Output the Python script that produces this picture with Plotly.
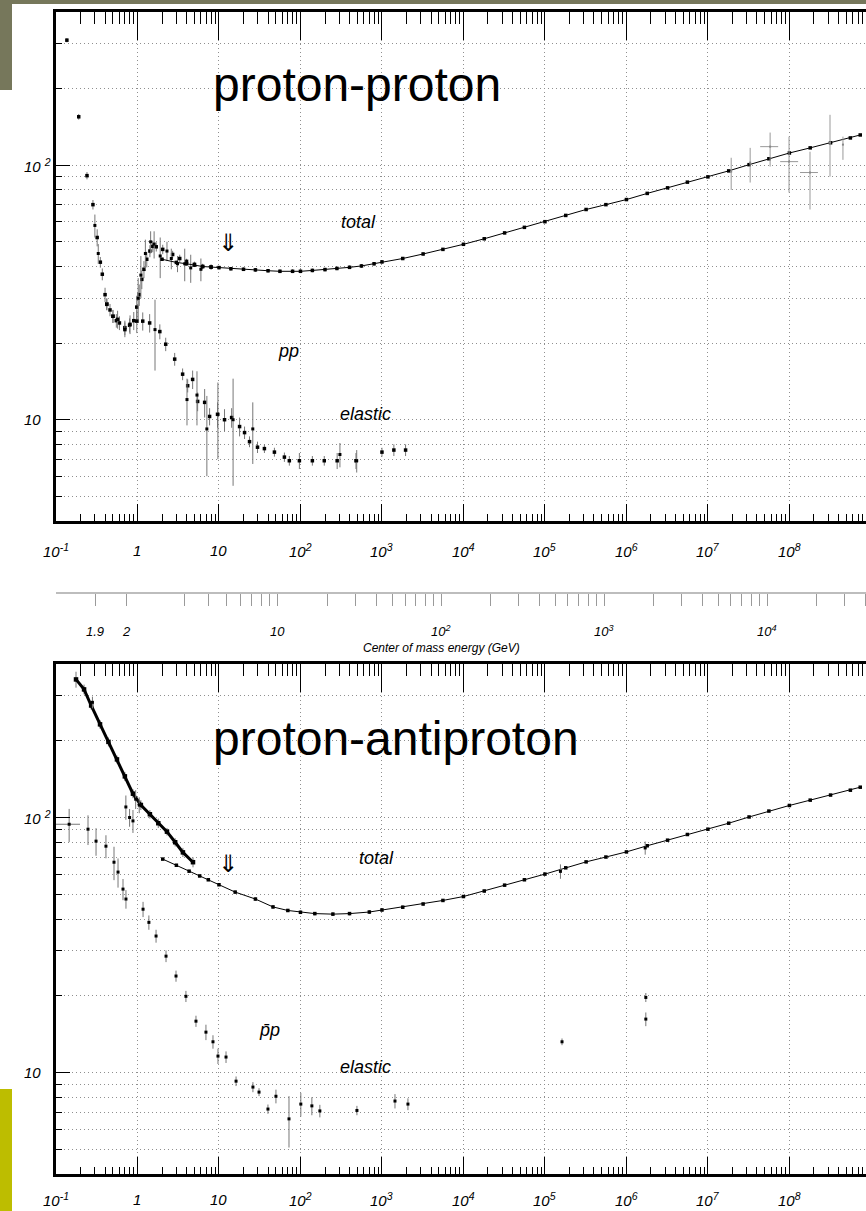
import math
import plotly.graph_objects as go

W, H = 866, 1211

# ------------------------------------------------------------------
# DATA  (beam momentum p_lab in GeV/c, cross sections in mb)
# ------------------------------------------------------------------
# proton-proton total, low-energy measurements
pp_tot_lo_p = [0.136, 0.19, 0.24, 0.284, 0.32, 0.35, 0.37, 0.40, 0.42, 0.46, 0.50, 0.55,
               0.60, 0.70, 0.80, 0.90, 0.98, 1.05, 1.13, 1.20, 1.30, 1.42, 1.54, 1.70,
               2.04, 2.70, 3.30, 4.0, 5.0, 6.3, 8.0]
pp_tot_lo_sig = [310, 155, 91, 70, 52, 41.6, 37.3, 31, 28.5, 27, 25.5, 24.5,
                 24, 23, 23.5, 24.5, 27.7, 31, 35.6, 39, 42.7, 46, 48, 47.8,
                 46.7, 44.6, 43, 41.9, 40.8, 40, 39.8]
pp_tot_lo_err = [6, 4, 3, 3, 4, 2, 2, 2, 1.5, 1.5, 1.5, 1.5,
                 1.5, 1.5, 1.5, 2, 3, 3, 3, 3, 3, 2.5, 2.5, 2,
                 2, 1.5, 1.5, 1, 1, 1, 1]
# proton-proton total, scattered measurements with larger errors
pp_tot_sc_p = [0.30, 0.33, 1.02, 1.10, 1.25, 1.45, 1.60, 1.90, 2.30, 2.60, 3.10, 3.80, 4.50, 6.00]
pp_tot_sc_sig = [58, 45, 30, 37, 45, 50, 49, 44, 46, 43, 41, 41, 39.5, 39]
pp_tot_sc_err = [6, 4, 6, 7, 6, 5, 6, 8, 4, 4, 3, 6, 5, 4]
# proton-proton total, higher-energy points along the fitted curve
pp_tot_hi_p = [2.0, 3.0, 4.0, 5.0, 6.3, 8.0, 10, 14, 20, 28, 40, 56, 80, 100, 140, 200,
               280, 400, 560, 800, 1000, 1.8e3, 3.2e3, 5.6e3, 1e4, 1.8e4, 3.2e4, 5.6e4,
               1e5, 1.8e5, 3.2e5, 5.6e5, 1e6, 1.8e6, 3.2e6, 5.6e6, 1e7, 1.8e7, 3.2e7,
               5.6e7, 1e8, 1.8e8, 3.2e8, 5.6e8, 7.4e8]
pp_tot_hi_sig = [42.7, 41.5, 41.0, 40.5, 40.0, 39.8, 39.6, 39.2, 39.0, 38.8, 38.5, 38.3,
                 38.3, 38.3, 38.6, 38.9, 39.3, 39.7, 40.2, 41.0, 41.7, 43.0, 44.8, 46.7,
                 48.9, 51.4, 54.2, 57.0, 60.0, 63.5, 67.0, 70.0, 73.3, 77.5, 81.5, 85.8,
                 90.0, 95.0, 100.5, 106.0, 111.7, 117.0, 122.5, 128.0, 131.5]
# proton-proton total, cosmic-ray points
pp_cr_p = [1.93e7, 3.3e7, 5.8e7, 9.9e7, 1.79e8, 3.15e8, 4.54e8]
pp_cr_sig = [94.4, 102.4, 118.3, 103.3, 93.6, 122.7, 120.5]
pp_cr_err_up = [12.6, 14.6, 16.1, 26.2, 19.4, 35.1, 9.0]
pp_cr_err_dn = [14.4, 16.9, 19.5, 25.2, 26.6, 32.5, 15.5]
pp_cr_xerr_up = [0, 0, 1.48e7, 2.9e7, 4.5e7, 0, 0]
pp_cr_xerr_dn = [0, 0, 1.42e7, 2.2e7, 4.4e7, 0, 0]

# proton-proton elastic
pp_el_p = [0.42, 0.50, 0.57, 0.70, 0.81, 0.98, 1.16, 1.41, 1.88, 2.22, 2.86, 3.58, 4.13,
           4.75, 5.47, 6.67, 7.67, 9.6, 11.7, 14.3, 17.9, 20.6, 23.7, 29.7, 36.1, 47.9,
           63.5, 73, 97, 140, 196, 282, 480, 1000, 1400, 1950]
pp_el_sig = [28.4, 25.5, 24.8, 22.6, 23.7, 24.4, 24.4, 24.0, 22.2, 19.8, 17.3, 15.1, 13.6,
             14.4, 11.8, 11.7, 10.3, 10.5, 10.0, 10.2, 9.4, 8.9, 8.2, 7.8, 7.7, 7.46,
             7.13, 6.9, 6.9, 6.9, 6.9, 6.9, 6.9, 7.46, 7.6, 7.6]
pp_el_err = [1.5, 1.5, 2, 1.5, 2, 2.5, 2, 2, 1.5, 1.2, 1.0, 0.8, 0.8,
             1.2, 1.0, 1.5, 0.8, 1.2, 1.0, 0.9, 0.8, 0.5, 0.4, 0.4, 0.3, 0.3,
             0.3, 0.3, 0.5, 0.3, 0.3, 0.5, 0.5, 0.3, 0.4, 0.4]
pp_el_sc_p = [1.64, 4.05, 5.37, 7.1, 9.7, 14.9, 26, 305, 490]
pp_el_sc_sig = [22.6, 12.0, 12.5, 9.2, 10.5, 10.0, 9.2, 7.3, 6.9]
pp_el_sc_err = [7.0, 2.5, 3.0, 3.2, 3.5, 4.5, 2.5, 0.8, 0.7]

# antiproton-proton total, low-energy band
pb_tot_lo_p = [0.176, 0.221, 0.27, 0.347, 0.44, 0.56, 0.70, 0.88, 1.1, 1.42, 1.8, 2.3,
               2.9, 3.61, 4.8]
pb_tot_lo_sig = [348, 318, 275, 232, 198, 169, 145, 124, 112, 103, 95, 88, 80, 73, 66.8]
pb_tot_lo_err = [25, 14, 10, 9, 8, 6, 6, 5, 5, 4, 4, 3, 3, 3, 3]
pb_tot_sc_p = [0.28, 0.72, 0.80, 0.88, 0.95, 1.05]
pb_tot_sc_sig = [283, 110, 100, 97, 118, 112]
pb_tot_sc_err = [15, 12, 8, 10, 10, 8]
# antiproton-proton total, higher-energy points along the fitted curve
pb_tot_hi_p = [2.04, 3.0, 4.3, 5.8, 7.4, 10, 15.8, 28, 46, 70, 100, 150, 250, 400, 700,
               1000, 1.8e3, 3.2e3, 5.6e3, 1e4, 1.8e4, 3.2e4, 5.6e4, 1e5, 1.8e5, 3.2e5,
               5.6e5, 1e6, 1.8e6, 3.2e6, 5.6e6, 1e7, 1.8e7, 3.2e7, 5.6e7, 1e8, 1.8e8,
               3.2e8, 5.6e8, 7.4e8]
pb_tot_hi_sig = [68.7, 65.0, 61.6, 59.0, 57.0, 54.5, 51.0, 47.9, 44.6, 43.2, 42.5, 42.0,
                 41.8, 42.0, 42.6, 43.4, 44.5, 45.8, 47.3, 49.0, 51.5, 54.3, 57.0, 60.0,
                 63.5, 67.0, 70.0, 73.3, 77.5, 81.5, 85.8, 90.0, 95.0, 100.5, 106.0,
                 111.5, 117.0, 122.5, 128.0, 131.5]
pb_tot_col_p = [1.55e5, 1.7e6]
pb_tot_col_sig = [61.5, 76.0]
pb_tot_col_err = [4.0, 4.5]

# antiproton-proton elastic
pb_el_p = [0.145, 0.247, 0.31, 0.41, 0.515, 0.577, 0.664, 0.722, 1.17, 1.38, 1.69, 2.24,
           2.97, 3.93, 5.22, 6.92, 8.44, 9.72, 12.2, 16.2, 26.1, 31.0, 39.9, 50, 72.3,
           101, 138, 173, 493, 1445, 2084, 1.62e5, 1.73e6, 1.73e6]
pb_el_sig = [94.1, 90, 80.8, 77.2, 66.8, 61.1, 52.4, 47.9, 43.7, 38.8, 34.3, 28.6,
             23.9, 19.9, 15.9, 14.4, 13.2, 11.6, 11.5, 9.25, 8.77, 8.38, 7.19, 8.07, 6.58,
             7.52, 7.4, 7.07, 7.1, 7.73, 7.52, 13.2, 16.2, 19.7]
pb_el_err = [14, 12, 10, 8, 10, 8, 5, 4, 3, 2.5, 2, 1.5,
             1.2, 1.0, 0.8, 1.0, 0.8, 0.8, 0.6, 0.4, 0.4, 0.3, 0.3, 0.5, 1.5,
             0.8, 0.6, 0.4, 0.3, 0.5, 0.4, 0.4, 1.0, 0.8]
pb_el_xerr_up = [0.052] + [0] * 33
pb_el_xerr_dn = [0.045] + [0] * 33

# axis ticks / labels
x_major = [1e-1, 1, 10, 1e2, 1e3, 1e4, 1e5, 1e6, 1e7, 1e8]
x_major_text = ["10<sup>-1</sup>", "1", "10", "10<sup>2</sup>", "10<sup>3</sup>",
                "10<sup>4</sup>", "10<sup>5</sup>", "10<sup>6</sup>", "10<sup>7</sup>",
                "10<sup>8</sup>"]
y_major = [10, 100]
y_major_text = ["10", "10 <sup>2</sup>"]
cm_ticks = [1.9, 2, 3, 4, 5, 6, 7, 8, 9, 10, 20, 30, 40, 50, 60, 70, 80, 90, 100,
            200, 300, 400, 500, 600, 700, 800, 900, 1000, 2000, 3000, 4000, 5000, 6000,
            7000, 8000, 9000, 10000, 20000, 30000, 40000]
cm_labels = {1.9: "1.9", 2: "2", 10: "10", 100: "10<sup>2</sup>",
             1000: "10<sup>3</sup>", 10000: "10<sup>4</sup>"}

# ------------------------------------------------------------------
M_P = 0.938272


def plab_from_sqrts(w):
    s = w * w
    e = (s - 2 * M_P ** 2) / (2 * M_P)
    return math.sqrt(max(e * e - M_P ** 2, 1e-12))


def fx(px):
    return px / W


def fy(py):
    return 1 - py / H


XR = [-1, 8.94]
YR = [math.log10(4), math.log10(400)]
XDOM = [fx(56), 1.0]
TOP_DOM = [fy(521), fy(12)]
BOT_DOM = [fy(1174), fy(664)]

FONT = "Liberation Sans, Arial, Helvetica, sans-serif"
ERRC = "#777777"
GRIDC = "#8f8f8f"
GDASH = "1px,3px"

fig = go.Figure()


def pts(x, y, xa, ya, err=None, errm=None, xe=None, xem=None, size=3.5, mode="markers",
        lw=1.0, color="black", errc=ERRC):
    kw = dict(x=x, y=y, xaxis=xa, yaxis=ya, mode=mode, hoverinfo="skip",
              marker=dict(color=color, size=size, symbol="square"),
              line=dict(color="black", width=lw), showlegend=False)
    if err is not None:
        kw["error_y"] = dict(type="data", array=err,
                             arrayminus=errm if errm is not None else err,
                             color=errc, thickness=1, width=0)
    if xe is not None:
        kw["error_x"] = dict(type="data", array=xe, arrayminus=xem,
                             color=errc, thickness=1, width=0)
    fig.add_trace(go.Scatter(**kw))


# top panel : proton-proton
pts(pp_tot_lo_p, pp_tot_lo_sig, "x", "y", pp_tot_lo_err)
pts(pp_tot_sc_p, pp_tot_sc_sig, "x", "y", pp_tot_sc_err, size=3)
pts(pp_tot_hi_p, pp_tot_hi_sig, "x", "y", [0.6] * len(pp_tot_hi_p),
    mode="lines+markers", size=3.5, errc="black")
pts(pp_cr_p, pp_cr_sig, "x", "y", pp_cr_err_up, pp_cr_err_dn, pp_cr_xerr_up,
    pp_cr_xerr_dn, size=2, color="#888888", errc="#999999")
pts(pp_el_p, pp_el_sig, "x", "y", pp_el_err)
pts(pp_el_sc_p, pp_el_sc_sig, "x", "y", pp_el_sc_err, size=3)

# bottom panel : antiproton-proton
pts(pb_tot_lo_p, pb_tot_lo_sig, "x2", "y2", pb_tot_lo_err, mode="lines+markers",
    size=4.5, lw=3)
pts(pb_tot_sc_p, pb_tot_sc_sig, "x2", "y2", pb_tot_sc_err, size=3)
pts(pb_tot_hi_p, pb_tot_hi_sig, "x2", "y2", [0.6] * len(pb_tot_hi_p),
    mode="lines+markers", size=3.5, errc="black")
pts(pb_tot_col_p, pb_tot_col_sig, "x2", "y2", pb_tot_col_err, size=3)
pts(pb_el_p, pb_el_sig, "x2", "y2", pb_el_err, None, pb_el_xerr_up, pb_el_xerr_dn, size=3)

# ------------------------------------------------------------------
grid = dict(showgrid=True, gridcolor=GRIDC, gridwidth=1, griddash=GDASH)
common_x = dict(type="log", range=XR, domain=XDOM, showline=True, linecolor="black",
                linewidth=3, ticks="inside", tickcolor="black", tickwidth=1,
                tickmode="array", tickvals=x_major, showticklabels=False,
                zeroline=False, automargin=False, fixedrange=True)
common_y = dict(type="log", range=YR, showline=True, linecolor="black", linewidth=3,
                ticks="inside", tickcolor="black", tickwidth=1, tickmode="array",
                tickvals=y_major, ticklen=14, showticklabels=False, zeroline=False,
                automargin=False, fixedrange=True,
                minor=dict(dtick="D1", ticks="inside", ticklen=6, tickcolor="black",
                           showgrid=True, gridcolor=GRIDC, griddash=GDASH,
                           gridwidth=1),
                **grid)

layout = dict(
    width=W, height=H, margin=dict(l=0, r=0, t=0, b=0),
    paper_bgcolor="white", plot_bgcolor="white", showlegend=False,
    font=dict(family=FONT, color="black"),
    xaxis=dict(anchor="y", ticklen=17,
               minor=dict(dtick="D1", ticks="inside", ticklen=7, tickcolor="black"),
               **grid, **common_x),
    yaxis=dict(anchor="x", domain=TOP_DOM, **common_y),
    xaxis2=dict(anchor="y2", ticklen=17,
                minor=dict(dtick="D1", ticks="inside", ticklen=7, tickcolor="black"),
                **grid, **common_x),
    yaxis2=dict(anchor="x2", domain=BOT_DOM, **common_y),
    xaxis3=dict(anchor="y", overlaying="x", side="top", ticklen=28, showgrid=False,
                minor=dict(dtick="D1", ticks="inside", ticklen=12, tickcolor="black"),
                **common_x),
    xaxis4=dict(anchor="y2", overlaying="x2", side="top", ticklen=28, showgrid=False,
                minor=dict(dtick="D1", ticks="inside", ticklen=12, tickcolor="black"),
                **common_x),
    xaxis5=dict(type="log", range=XR, domain=XDOM, anchor="free", position=fy(593),
                overlaying="x", side="bottom", showline=True, linecolor="#bdbdbd",
                linewidth=2, ticks="outside", ticklen=12, tickcolor="#9a9a9a",
                tickwidth=1, tickmode="array",
                tickvals=[plab_from_sqrts(w) for w in cm_ticks],
                showticklabels=False, showgrid=False, zeroline=False,
                automargin=False, fixedrange=True),
)
fig.update_layout(**layout)

# invisible trace to activate the overlay axes
for xa, ya in (("x3", "y"), ("x4", "y2"), ("x5", "y")):
    fig.add_trace(go.Scatter(x=[1], y=[10], xaxis=xa, yaxis=ya, mode="markers",
                             marker=dict(opacity=0), hoverinfo="skip", showlegend=False))

ann = []
itf = dict(family=FONT, size=15, color="black", style="italic")

# x tick labels (both panels)
for v, t in zip(x_major, x_major_text):
    for xr, ypix in (("x", 550), ("x2", 1199)):
        ann.append(dict(x=math.log10(v), xref=xr, y=fy(ypix), yref="paper", text=t,
                        showarrow=False, xanchor="center", yanchor="middle", font=itf))
# y tick labels
for v, t in zip(y_major, y_major_text):
    for yr in ("y", "y2"):
        ann.append(dict(x=fx(22), xref="paper", y=math.log10(v), yref=yr, text=t,
                        showarrow=False, xanchor="left", yanchor="middle", font=itf))
# centre of mass energy labels
for w in cm_ticks:
    if w in cm_labels:
        ann.append(dict(x=math.log10(plab_from_sqrts(w)), xref="x", y=fy(631),
                        yref="paper", text=cm_labels[w], showarrow=False,
                        xanchor="center", yanchor="middle",
                        font=dict(family=FONT, size=13, color="black", style="italic")))
ann.append(dict(x=fx(441), xref="paper", y=fy(648), yref="paper",
                text="Center of mass energy (GeV)", showarrow=False, xanchor="center",
                yanchor="middle",
                font=dict(family=FONT, size=12, color="black", style="italic")))

# panel texts
lab = dict(family=FONT, size=18, color="black", style="italic")
for txt, x0, y0 in (("total", 358, 222), ("pp", 288, 351), ("elastic", 365, 414),
                    ("total", 376, 858), ("p\u0304p", 269, 1030),
                    ("elastic", 365, 1067)):
    ann.append(dict(x=fx(x0), xref="paper", y=fy(y0), yref="paper", text=txt,
                    showarrow=False, xanchor="center", yanchor="middle", font=lab))
for y0 in (243, 864):
    ann.append(dict(x=fx(228), xref="paper", y=fy(y0), yref="paper", text="\u21d3",
                    showarrow=False, xanchor="center", yanchor="middle",
                    font=dict(family="DejaVu Sans", size=24, color="black")))

big = dict(family=FONT, size=48, color="black")
ann.append(dict(x=fx(211), xref="paper", y=fy(85), yref="paper", text="proton-proton",
                showarrow=False, xanchor="left", yanchor="middle", font=big))
ann.append(dict(x=fx(211), xref="paper", y=fy(738), yref="paper",
                text="proton-antiproton", showarrow=False, xanchor="left",
                yanchor="middle", font=big))
fig.update_layout(annotations=ann)

# slide decorations
fig.update_layout(shapes=[
    dict(type="rect", xref="paper", yref="paper", x0=0, x1=1, y0=fy(4), y1=1,
         fillcolor="#76775b", line=dict(width=0), layer="above"),
    dict(type="rect", xref="paper", yref="paper", x0=0, x1=fx(12), y0=fy(90), y1=1,
         fillcolor="#76775b", line=dict(width=0), layer="above"),
    dict(type="rect", xref="paper", yref="paper", x0=0, x1=fx(12), y0=0, y1=fy(1089),
         fillcolor="#bdbd00", line=dict(width=0), layer="above"),
])

fig.write_html("out.html", config={"displayModeBar": False},
               post_script="document.body.style.margin='0px';"
                           "document.body.style.overflow='hidden';")
